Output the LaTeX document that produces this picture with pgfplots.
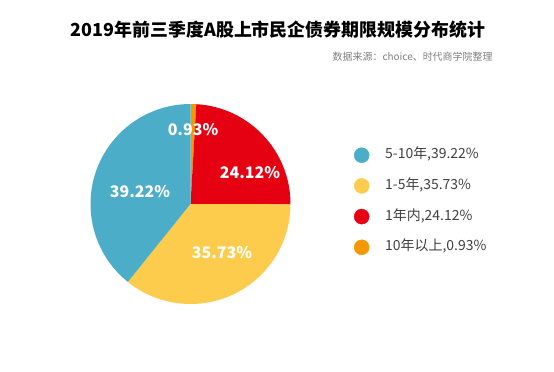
\documentclass[border=0pt]{standalone}
\usepackage{fontspec}
\setmainfont{Noto Sans CJK SC}
\usepackage{pgfplots}
\pgfplotsset{compat=1.18}
\definecolor{cBlue}{HTML}{4CADC9}
\definecolor{cYellow}{HTML}{FECC4C}
\definecolor{cRed}{HTML}{E50012}
\definecolor{cOrange}{HTML}{F39800}
\definecolor{legendgray}{HTML}{404040}
\definecolor{subgray}{HTML}{7F7F7F}
\begin{document}
\begin{tikzpicture}
\begin{axis}[x=1bp,y=1bp,xmin=0,xmax=554,ymin=0,ymax=371,hide axis,clip=false,
  legend style={at={(axis cs:354,224.5)},anchor=north west,draw=none,fill=none,inner sep=0pt,
    font=\fontsize{14}{16}\selectfont\color{legendgray},
    nodes={inner sep=2bp,text height=10bp,text depth=3bp},
    row sep=13.7bp,
    /tikz/every odd column/.append style={column sep=14bp}},
  legend cell align=left]
\addlegendimage{only marks,mark=*,mark size=7.5bp,draw=cBlue,fill=cBlue}
\addlegendentry{5-10年,39.22\%}
\addlegendimage{only marks,mark=*,mark size=7.5bp,draw=cYellow,fill=cYellow}
\addlegendentry{1-5年,35.73\%}
\addlegendimage{only marks,mark=*,mark size=7.5bp,draw=cRed,fill=cRed}
\addlegendentry{1年内,24.12\%}
\addlegendimage{only marks,mark=*,mark size=7.5bp,draw=cOrange,fill=cOrange}
\addlegendentry{10年以上,0.93\%}
% pie slices, clockwise from top: 0.93, 24.12, 35.73, 39.22
\fill[cOrange] (axis cs:190.5,167) -- ++(90:100bp) arc[start angle=90,delta angle={-0.93*3.6},radius=100bp] -- cycle;
\fill[cRed] (axis cs:190.5,167) -- ++({90-0.93*3.6}:100bp) arc[start angle={90-0.93*3.6},delta angle={-24.12*3.6},radius=100bp] -- cycle;
\fill[cYellow] (axis cs:190.5,167) -- ++({90-25.05*3.6}:100bp) arc[start angle={90-25.05*3.6},delta angle={-35.73*3.6},radius=100bp] -- cycle;
\fill[cBlue] (axis cs:190.5,167) -- ++({90-60.78*3.6}:100bp) arc[start angle={90-60.78*3.6},delta angle={-39.22*3.6},radius=100bp] -- cycle;
\node[font=\bfseries\fontsize{16}{18}\selectfont,text=white] at (axis cs:193,241) {0.93\%};
\node[font=\bfseries\fontsize{16}{18}\selectfont,text=white] at (axis cs:250,198) {24.12\%};
\node[font=\bfseries\fontsize{16}{18}\selectfont,text=white] at (axis cs:140,179) {39.22\%};
\node[font=\bfseries\fontsize{16}{18}\selectfont,text=white] at (axis cs:222,118) {35.73\%};
\node[font=\bfseries\fontsize{18}{20}\selectfont] at (axis cs:278,341) {2019年前三季度A股上市民企债券期限规模分布统计};
\node[anchor=east,font=\fontsize{10}{12}\selectfont,text=subgray] at (axis cs:496,314) {数据来源：choice、时代商学院整理};
\end{axis}
\pgfresetboundingbox
\path (current axis.south west) rectangle (current axis.north east);
\end{tikzpicture}
\end{document}
